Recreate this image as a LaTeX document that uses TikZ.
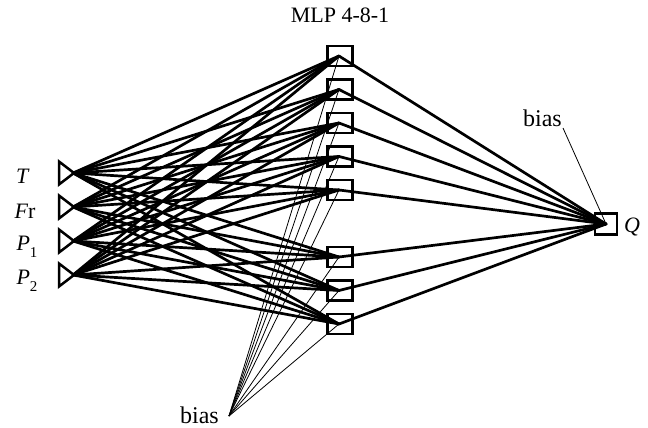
\documentclass[tikz,border=0pt]{standalone}
\usepackage{fontspec}
\setmainfont{Liberation Serif}
\begin{document}
\begin{tikzpicture}[x=1pt,y=-1pt,
  wire/.style={line width=2.7pt, line cap=round},
  biaswire/.style={line width=0.8pt},
  tri/.style={line width=2.5pt, line join=miter},
  hbox/.style={draw, line width=2.5pt, minimum width=25pt, minimum height=20pt, inner sep=0pt},
  obox/.style={draw, line width=2.5pt, minimum width=22pt, minimum height=21pt, inner sep=0pt},
  lbl/.style={font=\fontsize{22}{26}\selectfont, inner sep=0pt},
  biaslbl/.style={font=\fontsize{24}{28}\selectfont, inner sep=0pt}]
\useasboundingbox (0,0) rectangle (648,428);

% input layer: triangles with their labels
\foreach \y/\n in {173/1,207/2,241/3,275/4}{
  \draw[tri] (59,\y-11.5) -- (74,\y) -- (59,\y+11.5) -- cycle;
  \coordinate (in\n) at (73,\y);
}
\node[lbl] (lT)  at (23,176) {\textit{T}};
\node[lbl] (lFr) at (25,211) {\textit{F}r};
\node[lbl] (lP1) at (27,247) {\textit{P}\lower7pt\hbox{\fontsize{15}{17}\selectfont 1}};
\node[lbl] (lP2) at (27,281) {\textit{P}\lower7pt\hbox{\fontsize{15}{17}\selectfont 2}};

% hidden layer
\foreach \y/\n in {56/1,89.5/2,123/3,156.5/4,190/5,257/6,290.5/7,324/8}{
  \node[hbox] (hb\n) at (340,\y) {};
  \coordinate (h\n) at (339,\y);
}
\node[lbl] (title) at (340,15) {MLP 4-8-1};

% output layer
\node[obox] (ob) at (606,224) {};
\coordinate (out) at (606,224);
\node[lbl, anchor=west] (lQ) at (624,227) {\textit{Q}};

% input-to-hidden connections
\foreach \i in {1,...,4}{
  \foreach \j in {1,...,8}{
    \draw[wire] (in\i) -- (h\j);
  }
}
% hidden-to-output connections
\foreach \j in {1,...,8}{
  \draw[wire] (h\j) -- (out);
}

% bias of the hidden layer
\node[biaslbl, anchor=base east] (biasb) at (219,423) {bias};
\coordinate (bb) at (229,416);
\foreach \j in {1,...,8}{
  \draw[biaswire] (bb) -- (h\j);
}

% bias of the output neuron
\node[biaslbl, anchor=base east] (biast) at (562,126) {bias};
\coordinate (bt) at (563,128);
\draw[biaswire] (bt) -- (out);
\end{tikzpicture}
\end{document}
